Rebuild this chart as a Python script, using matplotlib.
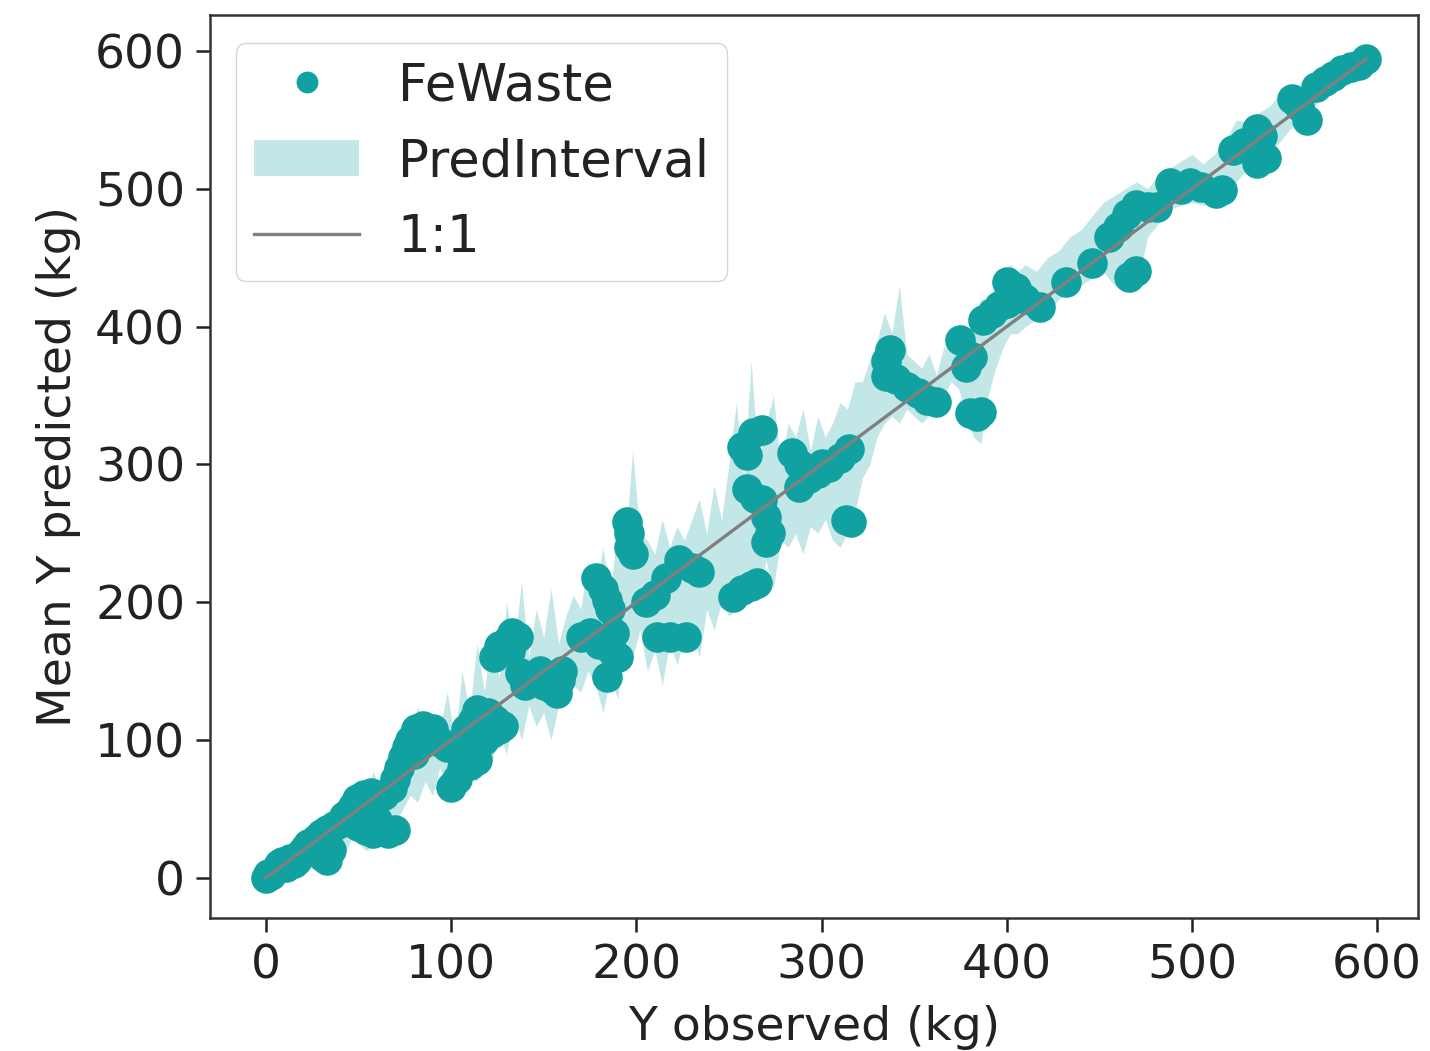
import matplotlib
matplotlib.use("Agg")
import matplotlib.pyplot as plt
import numpy as np

# Observed / mean predicted values (kg)
obs = [0, 1, 3, 5, 7, 9, 11, 13, 15, 17, 19, 21, 23, 25, 27, 29, 31, 33, 35, 30, 33,
       37, 40, 42, 45, 47, 49, 51, 53, 55, 57, 50, 54, 58, 62, 66, 70, 60, 64, 68,
       70, 72, 74, 76, 78, 81, 85, 88, 92, 95, 98, 100, 103, 106, 110, 114, 104, 108,
       112, 114, 117, 120, 124, 126, 128, 122, 118, 80, 84, 90,
       123, 126, 130, 133, 136, 132, 137, 140, 145, 150, 154, 157, 159, 160, 148,
       170, 175, 178, 182, 184, 186, 188, 187, 184, 190, 180, 195, 196, 196, 198,
       211, 218, 227, 216, 223, 230, 234, 205, 210,
       252, 257, 262, 265, 263, 268, 257, 260, 260, 264, 268, 270, 272, 270, 284,
       288, 288, 293, 298, 304, 310, 315, 313, 316, 300,
       337, 335, 335, 340, 346, 352, 357, 362,
       380, 384, 386, 375, 378, 381, 387, 392, 396, 400, 402, 400, 405, 410,
       418, 432, 446, 455, 460, 466, 470, 465, 470, 476, 481,
       488, 494, 499, 505, 513, 516, 522, 528, 535, 538, 535, 540, 554, 558, 562,
       567, 572, 576, 581, 586, 590, 594]
pred = [0, 3, 2, 6, 10, 12, 8, 14, 11, 13, 18, 22, 25, 20, 28, 18, 15, 13, 20, 32, 35,
        38, 40, 45, 48, 52, 57, 55, 60, 58, 62, 38, 35, 33, 35, 33, 35, 42, 60, 65,
        72, 80, 88, 95, 100, 108, 110, 105, 100, 98, 95, 66, 72, 80, 82, 86, 96, 108,
        115, 122, 118, 120, 115, 108, 110, 105, 100, 90, 98, 108,
        160, 168, 172, 178, 175, 165, 149, 140, 145, 140, 138, 134, 144, 150, 150,
        175, 178, 218, 210, 202, 195, 178, 165, 146, 160, 170, 258, 250, 240, 235,
        175, 175, 175, 218, 231, 225, 222, 200, 205,
        204, 209, 212, 214, 323, 325, 313, 307, 282, 276, 274, 262, 250, 244, 308,
        300, 284, 290, 294, 298, 305, 311, 260, 258, 300,
        383, 375, 364, 362, 356, 352, 347, 345,
        337, 335, 338, 390, 371, 378, 405, 410, 415, 432, 425, 417, 428, 420,
        414, 432, 446, 465, 472, 436, 440, 482, 488, 487, 487,
        504, 500, 504, 501, 497, 499, 528, 533, 543, 538, 519, 522, 565, 560, 550,
        574, 578, 582, 586, 588, 590, 594]

# Prediction interval (kg): observed value, lower and upper bound
band_x = [0, 5, 10, 14, 18, 22, 26, 30, 34, 38, 42, 46, 50, 54, 58, 62, 66, 70, 74, 78,
          82, 86, 90, 94, 98, 102, 106, 110, 114, 118, 122, 126, 130, 134, 138, 142,
          146, 150, 154, 158, 162, 166, 170, 174, 178, 182, 186, 190, 194, 198, 202,
          206, 210, 214, 218, 222, 226, 230, 234, 238, 242, 246, 250, 254, 258, 262,
          266, 270, 274, 278, 282, 286, 290, 294, 298, 302, 306, 310, 314, 318, 322,
          326, 330, 334, 338, 342, 346, 350, 354, 358, 362, 366, 370, 374, 378, 382,
          386, 390, 394, 398, 402, 406, 410, 416, 422, 428, 434, 440, 446, 452, 458,
          464, 470, 476, 482, 488, 494, 500, 506, 512, 518, 524, 530, 536, 542, 548,
          554, 560, 566, 572, 578, 584, 590, 595]
band_lo = [-2, 0, 2, 5, 6, 10, 8, 10, 12, 20, 15, 28, 25, 20, 22, 28, 25, 40, 50, 60,
           55, 70, 60, 80, 55, 60, 70, 75, 70, 95, 85, 105, 90, 120, 100, 125,
           110, 120, 100, 125, 135, 140, 135, 150, 140, 120, 145, 130, 175, 160, 180,
           150, 165, 140, 170, 155, 175, 180, 160, 195, 180, 200, 190, 195, 200, 215,
           205, 230, 210, 245, 240, 250, 235, 255, 250, 260, 245, 240, 250, 265, 290,
           300, 320, 330, 335, 330, 340, 335, 330, 335, 345, 350, 360, 355, 335, 320,
           315, 350, 370, 385, 395, 395, 400, 405, 410, 420, 425, 430, 435, 440, 430,
           425, 428, 465, 475, 485, 488, 490, 488, 490, 500, 505, 515, 510, 525, 535,
           545, 545, 560, 568, 574, 580, 585, 590]
band_hi = [4, 12, 20, 15, 30, 25, 38, 30, 45, 40, 60, 50, 72, 55, 78, 60, 90, 75, 110, 95,
           125, 105, 120, 110, 135, 100, 150, 120, 170, 135, 180, 145, 200, 165, 215, 160,
           195, 175, 210, 170, 190, 205, 195, 230, 210, 240, 205, 260, 240, 310, 250,
           245, 235, 260, 240, 255, 245, 260, 275, 250, 285, 260, 300, 345, 290, 375,
           300, 330, 350, 300, 330, 320, 340, 310, 335, 320, 330, 345, 340, 360, 360,
           375, 390, 410, 395, 430, 380, 375, 370, 380, 365, 385, 385, 400, 395, 405,
           420, 420, 430, 440, 445, 440, 445, 440, 450, 455, 465, 470, 480, 490, 495,
           500, 505, 500, 510, 515, 520, 525, 518, 525, 535, 550, 548, 555, 560, 570,
           572, 575, 582, 585, 590, 594, 597, 598]

TEAL = '#12a1a1'
FS = 34
LFS = 37

fig = plt.figure(figsize=(14.30, 10.51), dpi=100)
ax = fig.add_axes([0.147, 0.1265, 0.8446, 0.8592])

ax.fill_between(band_x, band_lo, band_hi, color=TEAL, alpha=0.25, linewidth=0,
                label='PredInterval')
ax.plot(obs, pred, 'o', color=TEAL, markersize=21, label='FeWaste')
lim = [min(obs), max(obs)]
ax.plot(lim, lim, color='grey', linewidth=2.4, label='1:1')

ax.set_xlim(-30, 622)
ax.set_ylim(-29, 626)
ax.set_xticks([0, 100, 200, 300, 400, 500, 600])
ax.set_yticks([0, 100, 200, 300, 400, 500, 600])
ax.tick_params(labelsize=FS, length=10, width=1.8, colors='#222222', pad=8)
for s in ax.spines.values():
    s.set_linewidth(1.8)
    s.set_color('#333333')
ax.set_xlabel('Y observed (kg)', fontsize=FS, color='#222222', labelpad=12)
ax.set_ylabel('Mean Y predicted (kg)', fontsize=FS, color='#222222', labelpad=10)

h, l = ax.get_legend_handles_labels()
order = [l.index('FeWaste'), l.index('PredInterval'), l.index('1:1')]
leg = ax.legend([h[i] for i in order], [l[i] for i in order], loc='upper left',
                fontsize=LFS, markerscale=0.7, handlelength=2.05, borderpad=0.35,
                labelspacing=0.5, handletextpad=0.75, framealpha=0.8,
                bbox_to_anchor=(0.0, 0.997))
for t in leg.get_texts():
    t.set_color('#222222')

fig.savefig('out.png', dpi=100)
